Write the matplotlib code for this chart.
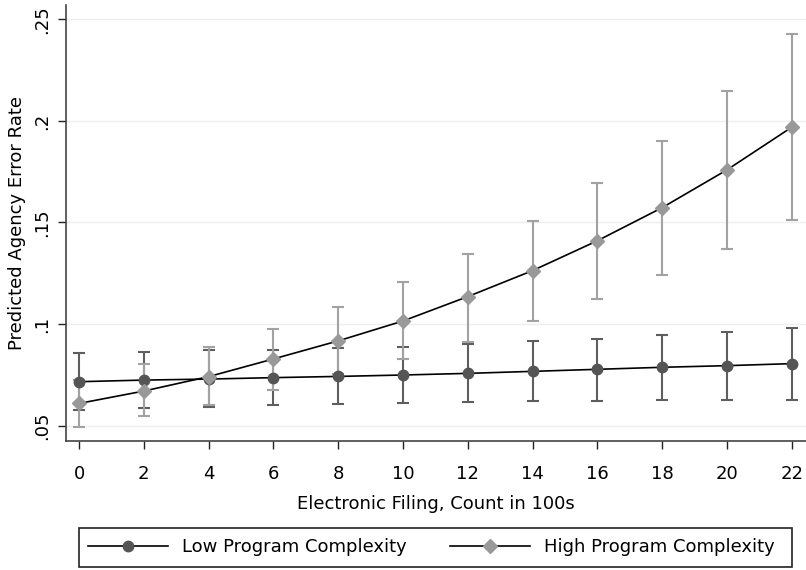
import matplotlib
matplotlib.use("Agg")
import matplotlib.pyplot as plt
from matplotlib.patches import Rectangle
import numpy as np

plt.rcParams['font.family'] = ['DejaVu Sans']

filing = [0, 2, 4, 6, 8, 10, 12, 14, 16, 18, 20, 22]

low_mean = [0.0716, 0.0724, 0.0729, 0.0736, 0.0742, 0.0749, 0.0757, 0.0767, 0.0777, 0.0787, 0.0795, 0.0805]
low_upper = [0.0856, 0.0861, 0.0872, 0.0872, 0.0880, 0.0888, 0.0901, 0.0915, 0.0928, 0.0946, 0.0962, 0.0982]
low_lower = [0.0576, 0.0585, 0.0593, 0.0600, 0.0606, 0.0609, 0.0616, 0.0619, 0.0622, 0.0626, 0.0627, 0.0627]

high_mean = [0.0609, 0.0670, 0.0741, 0.0828, 0.0917, 0.1015, 0.1135, 0.1263, 0.1410, 0.1573, 0.1759, 0.1969]
high_upper = [0.0724, 0.0801, 0.0885, 0.0975, 0.1085, 0.1205, 0.1345, 0.1509, 0.1693, 0.1903, 0.2149, 0.2429]
high_lower = [0.0494, 0.0547, 0.0601, 0.0675, 0.0752, 0.0828, 0.0913, 0.1016, 0.1125, 0.1241, 0.1371, 0.1512]

y_ticks = [0.05, 0.1, 0.15, 0.2, 0.25]
y_tick_labels = ['.05', '.1', '.15', '.2', '.25']

low_col = '#555555'
low_bar = '#5e5e5e'
high_col = '#999999'
high_bar = '#a2a2a2'

fig = plt.figure(figsize=(8.06, 5.70), dpi=100)
ax = fig.add_axes([0.082, 0.2263, 0.918, 0.765])

x = np.array(filing)
for mean, up, lo, c in [(low_mean, low_upper, low_lower, low_bar),
                        (high_mean, high_upper, high_lower, high_bar)]:
    mean = np.array(mean)
    err = [mean - np.array(lo), np.array(up) - mean]
    ax.errorbar(x, mean, yerr=err, fmt='none', ecolor=c, elinewidth=1.5,
                capsize=4, capthick=1.5, zorder=2)

l1, = ax.plot(x, low_mean, color='black', lw=1.2, marker='o', ms=7.5,
              mfc=low_col, mec=low_col, zorder=3, label='Low Program Complexity')
l2, = ax.plot(x, high_mean, color='black', lw=1.2, marker='D', ms=7.5,
              mfc=high_col, mec=high_col, zorder=4, label='High Program Complexity')

ax.set_xlim(-0.4, 22.44)
ax.set_ylim(0.0424, 0.2571)
ax.set_xticks(filing)
ax.set_yticks(y_ticks)
ax.set_yticklabels(y_tick_labels, rotation=90, va='center')
ax.tick_params(axis='both', direction='out', length=6, width=1, labelsize=13,
               color='#222222', pad=5)
ax.tick_params(axis='x', pad=11)
ax.grid(axis='y', color='#eeeeee', lw=1)
ax.set_axisbelow(True)
for s in ['top', 'right']:
    ax.spines[s].set_visible(False)
for s in ['left', 'bottom']:
    ax.spines[s].set_color('#444444')
    ax.spines[s].set_linewidth(1.2)

ax.set_xlabel('Electronic Filing, Count in 100s', fontsize=13, labelpad=9)
ax.set_ylabel('Predicted Agency Error Rate', fontsize=13, labelpad=5)

# legend box drawn separately so the entries can sit where they do in the original
fig.patches.append(Rectangle((79 / 806, 3 / 570), 713 / 806, 39 / 570,
                             transform=fig.transFigure, fill=False,
                             edgecolor='#222222', lw=1.2))
leg = fig.legend(handles=[l1, l2], loc='center left', ncol=2,
                 bbox_to_anchor=(88 / 806, 0.0395), fontsize=13,
                 handlelength=4.43, handletextpad=0.78, columnspacing=2.4,
                 borderpad=0, borderaxespad=0, frameon=False)

fig.savefig('out.png', dpi=100)
